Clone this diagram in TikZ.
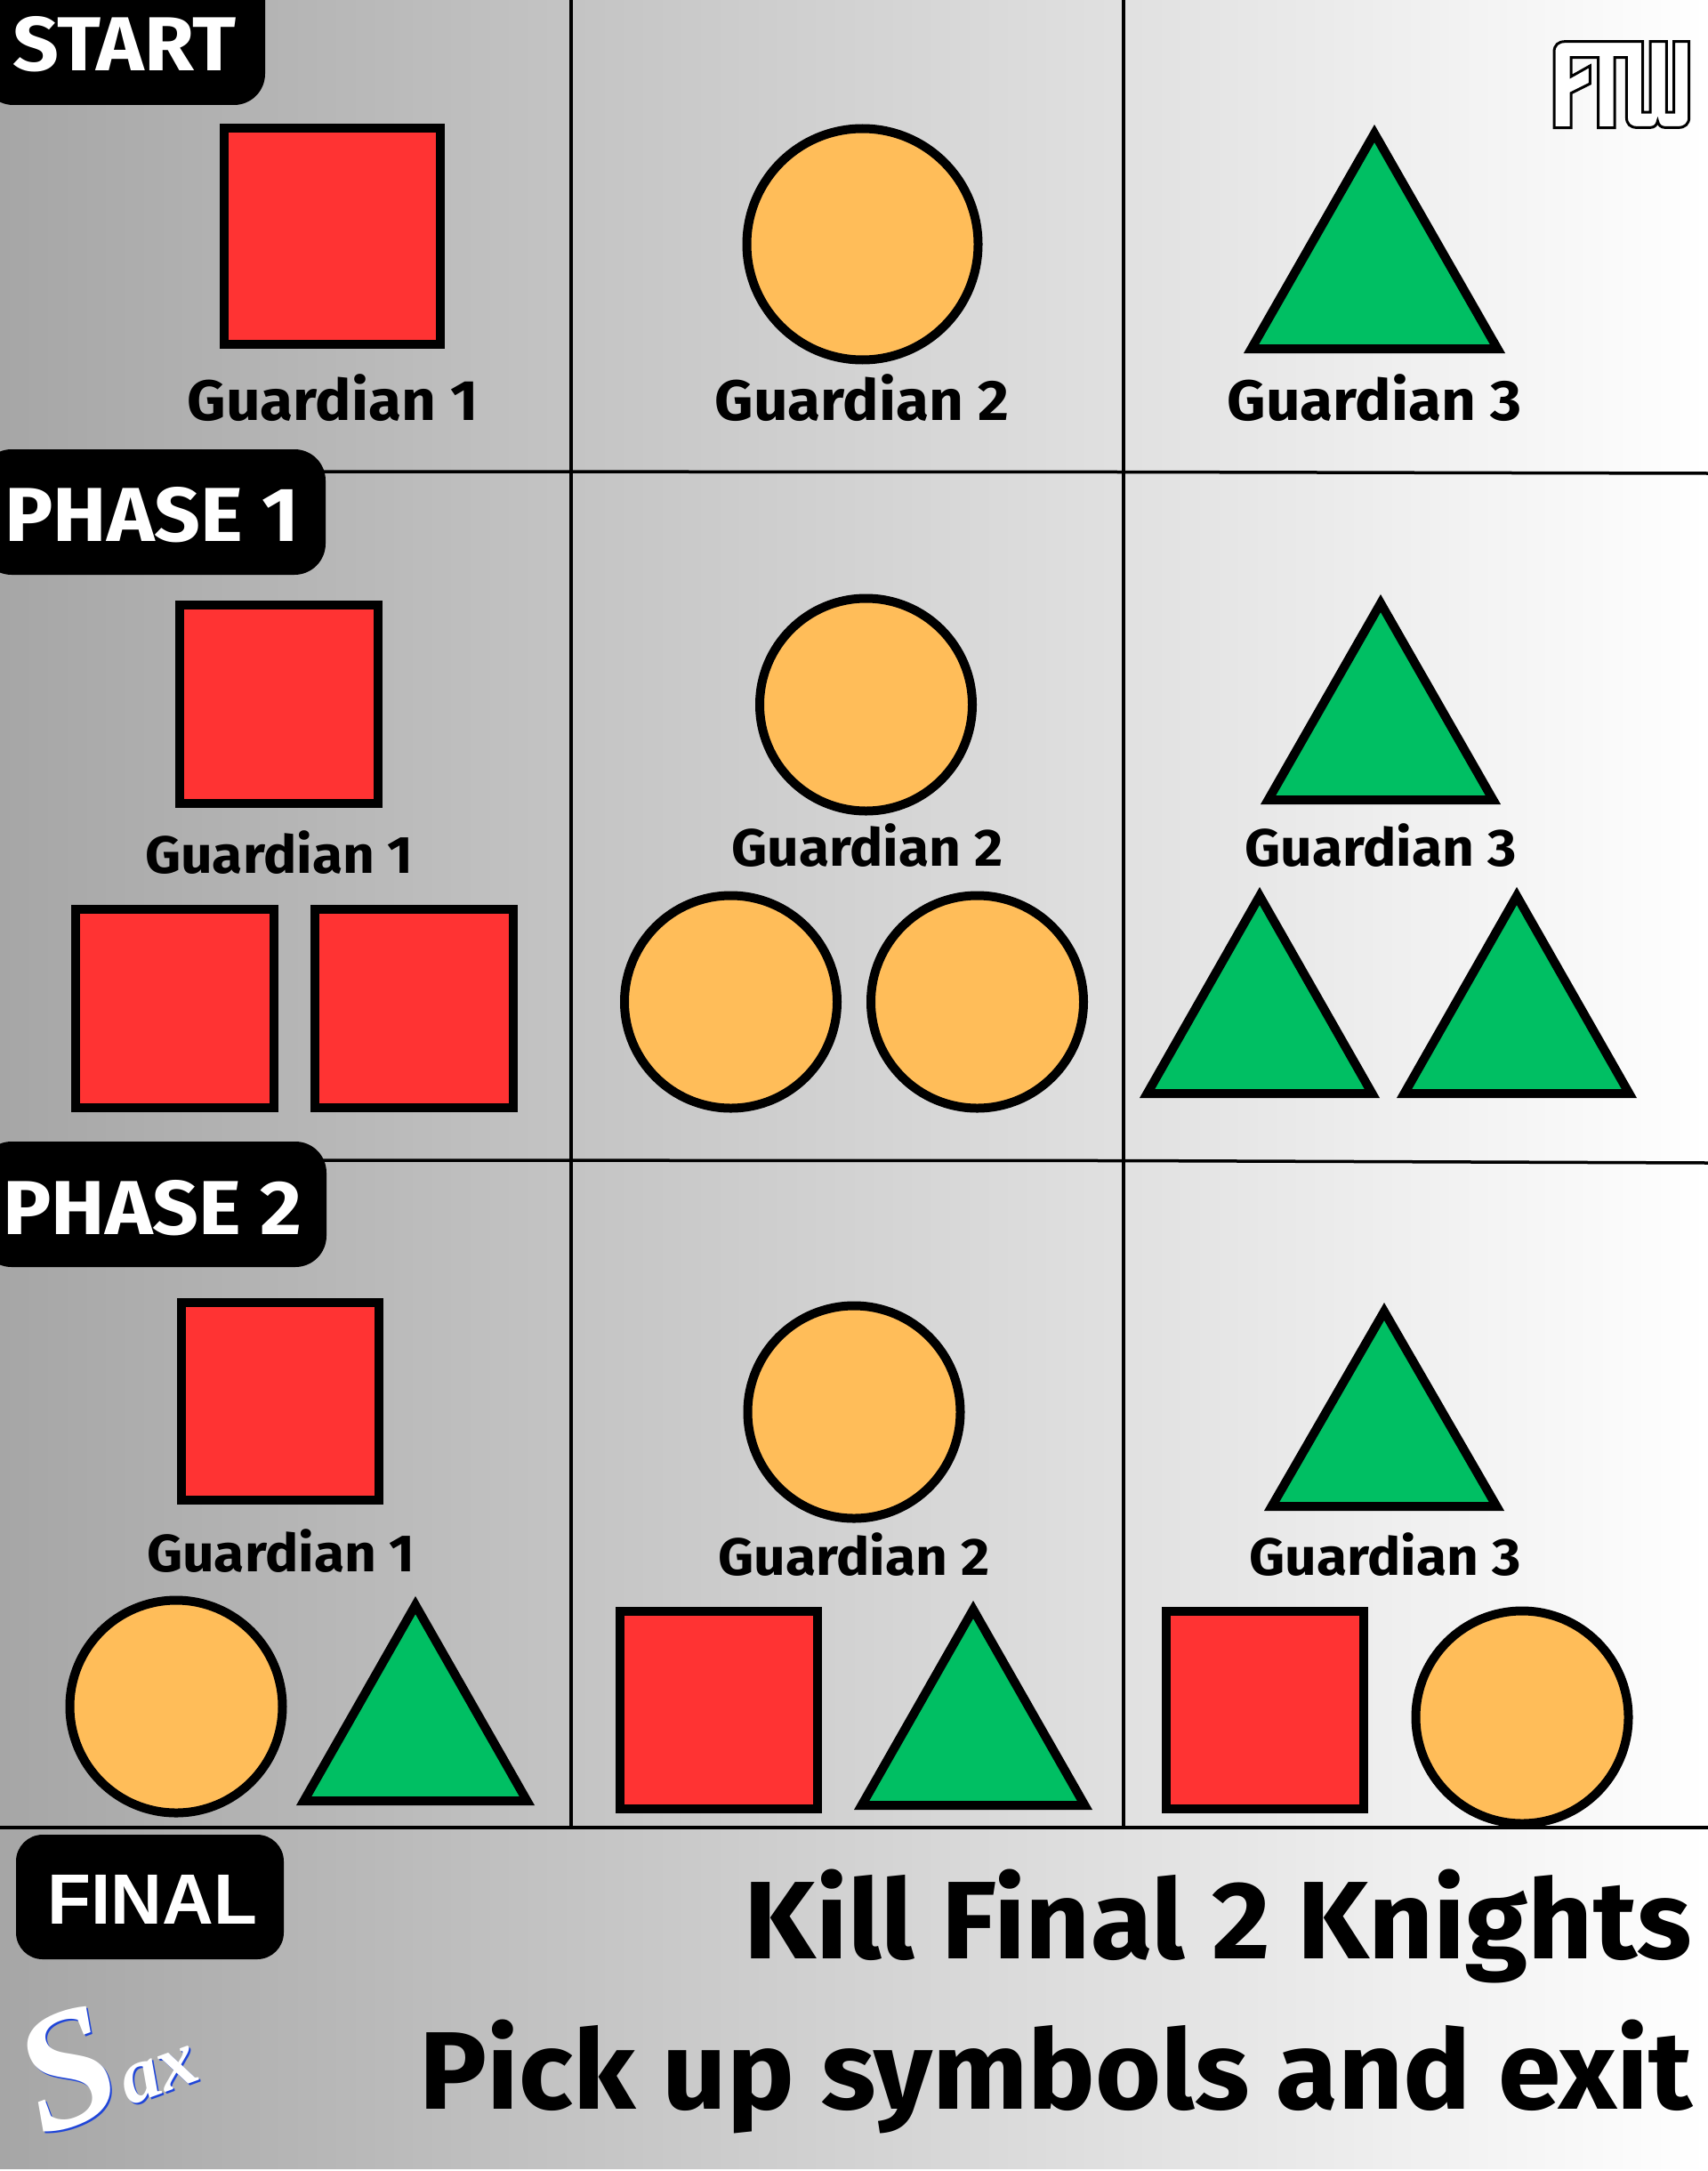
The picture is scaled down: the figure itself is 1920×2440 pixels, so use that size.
\documentclass[tikz,border=0pt]{standalone}
\usepackage{fontspec}
\setmainfont{Fira Sans}[BoldFont={* Bold}]
\newfontfamily\gfont{Fira Sans Bold}[FakeStretch=1.055]
\newfontfamily\bfont{Fira Sans Bold}[FakeStretch=1.025]
\newfontfamily\lab{Liberation Sans}[BoldFont={* Bold}]
\newfontfamily\saxf{Liberation Serif}[ItalicFont={* Bold Italic}]
\definecolor{sqred}{HTML}{FF3333}
\definecolor{circ}{HTML}{FFBD59}
\definecolor{tri}{HTML}{00BF63}
\definecolor{bgl}{HTML}{A6A6A6}
\definecolor{saxblue}{HTML}{1F45D8}
\pgfdeclarehorizontalshading{bgshade}{100bp}{color(0bp)=(bgl); color(25bp)=(bgl); color(75bp)=(white); color(100bp)=(white)}
\tikzset{
 sq/.style={draw=black,line width=5pt,fill=sqred,rectangle,inner sep=0pt,minimum size=#1},
 ci/.style={draw=black,line width=5pt,fill=circ,circle,inner sep=0pt,minimum size=#1},
 tr/.style={draw=black,line width=5pt,fill=tri,line join=miter},
 gline/.style={draw=black,line width=1.75pt},
 tagbox/.style={fill=black,inner sep=0pt,rectangle,rounded corners=#1},
 tagtxt/.style={text=white,inner sep=0pt,font=\gfont\fontsize{43}{43}\selectfont,anchor=base west},
 gd/.style={inner sep=0pt,font=\gfont\fontsize{#1}{30}\selectfont,anchor=base},
 big/.style={inner sep=0pt,font=\bfont\fontsize{62}{60}\selectfont,anchor=base east},
 saxs/.style={inner sep=0pt,anchor=base west,rotate=20,font=\saxf\itshape},
}
\newcommand{\SQ}[5]{\node[sq={#5*0.5pt-5pt}] (#1) at ({(#2+#3)/2},{(#4+#4+#5)/2}) {};}
\newcommand{\CI}[4]{\node[ci={#4*1pt-5pt}] (#1) at (#2,#3) {};}
\newcommand{\TR}[5]{\coordinate (#1) at (#2,#3); \draw[tr] ({#2},{#3+10}) -- ({#2+#5-8.6},{#4-5}) -- ({#2-#5+8.6},{#4-5}) -- cycle;}
\newcommand{\SaxT}{{\fontsize{94}{94}\selectfont S}{\fontsize{44}{44}\selectfont ax}}
\begin{document}
\begin{tikzpicture}[x=0.5pt,y=-0.5pt]
\useasboundingbox (0,0) rectangle (1920,2440);
\shade[shading=bgshade] (0,0) rectangle (1920,2437);
% grid
\coordinate (v1t) at (642,0); \coordinate (v1b) at (642,2054);
\coordinate (v2t) at (1263,0); \coordinate (v2b) at (1263,2054);
\coordinate (h1l) at (300,530); \coordinate (h1m) at (1263,530.5); \coordinate (h1r) at (1920,532);
\coordinate (h2l) at (300,1304); \coordinate (h2m) at (1263,1304.5); \coordinate (h2r) at (1920,1307);
\coordinate (h3l) at (0,2054); \coordinate (h3r) at (1920,2054);
\draw[gline] (v1t) -- (v1b);
\draw[gline] (v2t) -- (v2b);
\draw[gline] (h1l) -- (h1m) -- (h1r);
\draw[gline] (h2l) -- (h2m) -- (h2r);
\draw[gline] (h3l) -- (h3r);
% tags
\node[tagbox=17.5pt,minimum width=159pt,minimum height=88pt] (tagstart) at (139,30) {};
\node[tagtxt] (tstart) at (14,79.5) {START};
\node[tagbox=17.5pt,minimum width=194pt,minimum height=70.5pt] (tagp1) at (-22+194,575.5) {};
\node[tagtxt] (tp1) at (5,608) {PHASE 1};
\node[tagbox=17.5pt,minimum width=194.5pt,minimum height=70.5pt] (tagp2) at (-22+194.5,1353.5) {};
\node[tagtxt] (tp2) at (3,1387) {PHASE 2};
\node[tagbox=15pt,minimum width=150.5pt,minimum height=70pt] (tagf) at (168.5,2132) {};
\node[tagtxt,font=\lab\bfseries\fontsize{40}{40}\selectfont] (tf) at (53,2162) {FINAL};
% start row
\SQ{s0}{247}{500}{139}{253}
\CI{c0}{969.5}{274.5}{135}
\TR{t0}{1545}{140}{397}{147}
\node[gd=32] (g01) at (374,472) {Guardian 1};
\node[gd=32] (g02) at (969,472) {Guardian 2};
\node[gd=32] (g03) at (1545,472) {Guardian 3};
% phase 1
\SQ{s1}{197}{430}{675}{233}
\SQ{s1a}{80}{313}{1017}{233}
\SQ{s1b}{349}{582}{1017}{233}
\CI{c1}{973.5}{792}{124.5}
\CI{c1a}{821.5}{1126}{124.5}
\CI{c1b}{1098.5}{1126}{124.5}
\TR{t1}{1552}{668}{904}{135}
\TR{t1a}{1416}{997}{1234}{135}
\TR{t1b}{1705}{997}{1234}{135}
\node[gd=29.5] (g11) at (314,981) {Guardian 1};
\node[gd=29.5] (g12) at (975,973) {Guardian 2};
\node[gd=29.5] (g13) at (1552,973) {Guardian 3};
% phase 2
\SQ{s2}{199}{431}{1459}{232}
\CI{c2}{960}{1587}{124.5}
\TR{t2}{1556}{1464}{1698}{135}
\node[gd=29.5] (g21) at (316,1766) {Guardian 1};
\node[gd=29.5] (g22) at (960,1770) {Guardian 2};
\node[gd=29.5] (g23) at (1557,1770) {Guardian 3};
\CI{c2a}{198}{1918}{124.5}
\TR{t2a}{467}{1794}{2029}{134}
\SQ{s2b}{692}{924}{1806}{232}
\TR{t2b}{1094}{1799}{2034}{134}
\SQ{s2c}{1305}{1538}{1806}{232}
\CI{c2c}{1711}{1930}{124.5}
% final
\node[big] (b1) at (1902,2201.5) {Kill Final 2 Knights};
\node[big] (b2) at (1903,2370.5) {Pick up symbols and exit};
% logo
\begin{scope}[shift={(1680,0)},x=0.1667pt,y=-0.1667pt]
\draw[draw=black,fill=white,line width=1.5pt,line join=miter]
 (201,431) -- (201,175) .. controls (201,152) and (215,140) .. (238,140) -- (500,140) -- (500,378) -- (525,378) -- (525,140) -- (580,140) -- (580,378) -- (605,378) -- (605,140) -- (656,140) -- (656,395) .. controls (656,418) and (642,430) .. (620,430) -- (575,430) .. controls (560,430) and (552,420) .. (550,408) .. controls (548,420) and (540,430) .. (525,430) -- (480,430) .. controls (458,430) and (445,418) .. (445,395) -- (445,194) -- (405,194) -- (405,431) -- (350,431) -- (350,194) -- (258,194) -- (258,258) -- (322,222) -- (322,282) -- (258,314) -- (258,431) -- cycle;
\end{scope}
% signature
\node[saxs,text=saxblue] (sax2) at (49,2404) {\SaxT};
\node[saxs,text=white] (sax1) at (47,2402) {\SaxT};
\end{tikzpicture}
\end{document}
